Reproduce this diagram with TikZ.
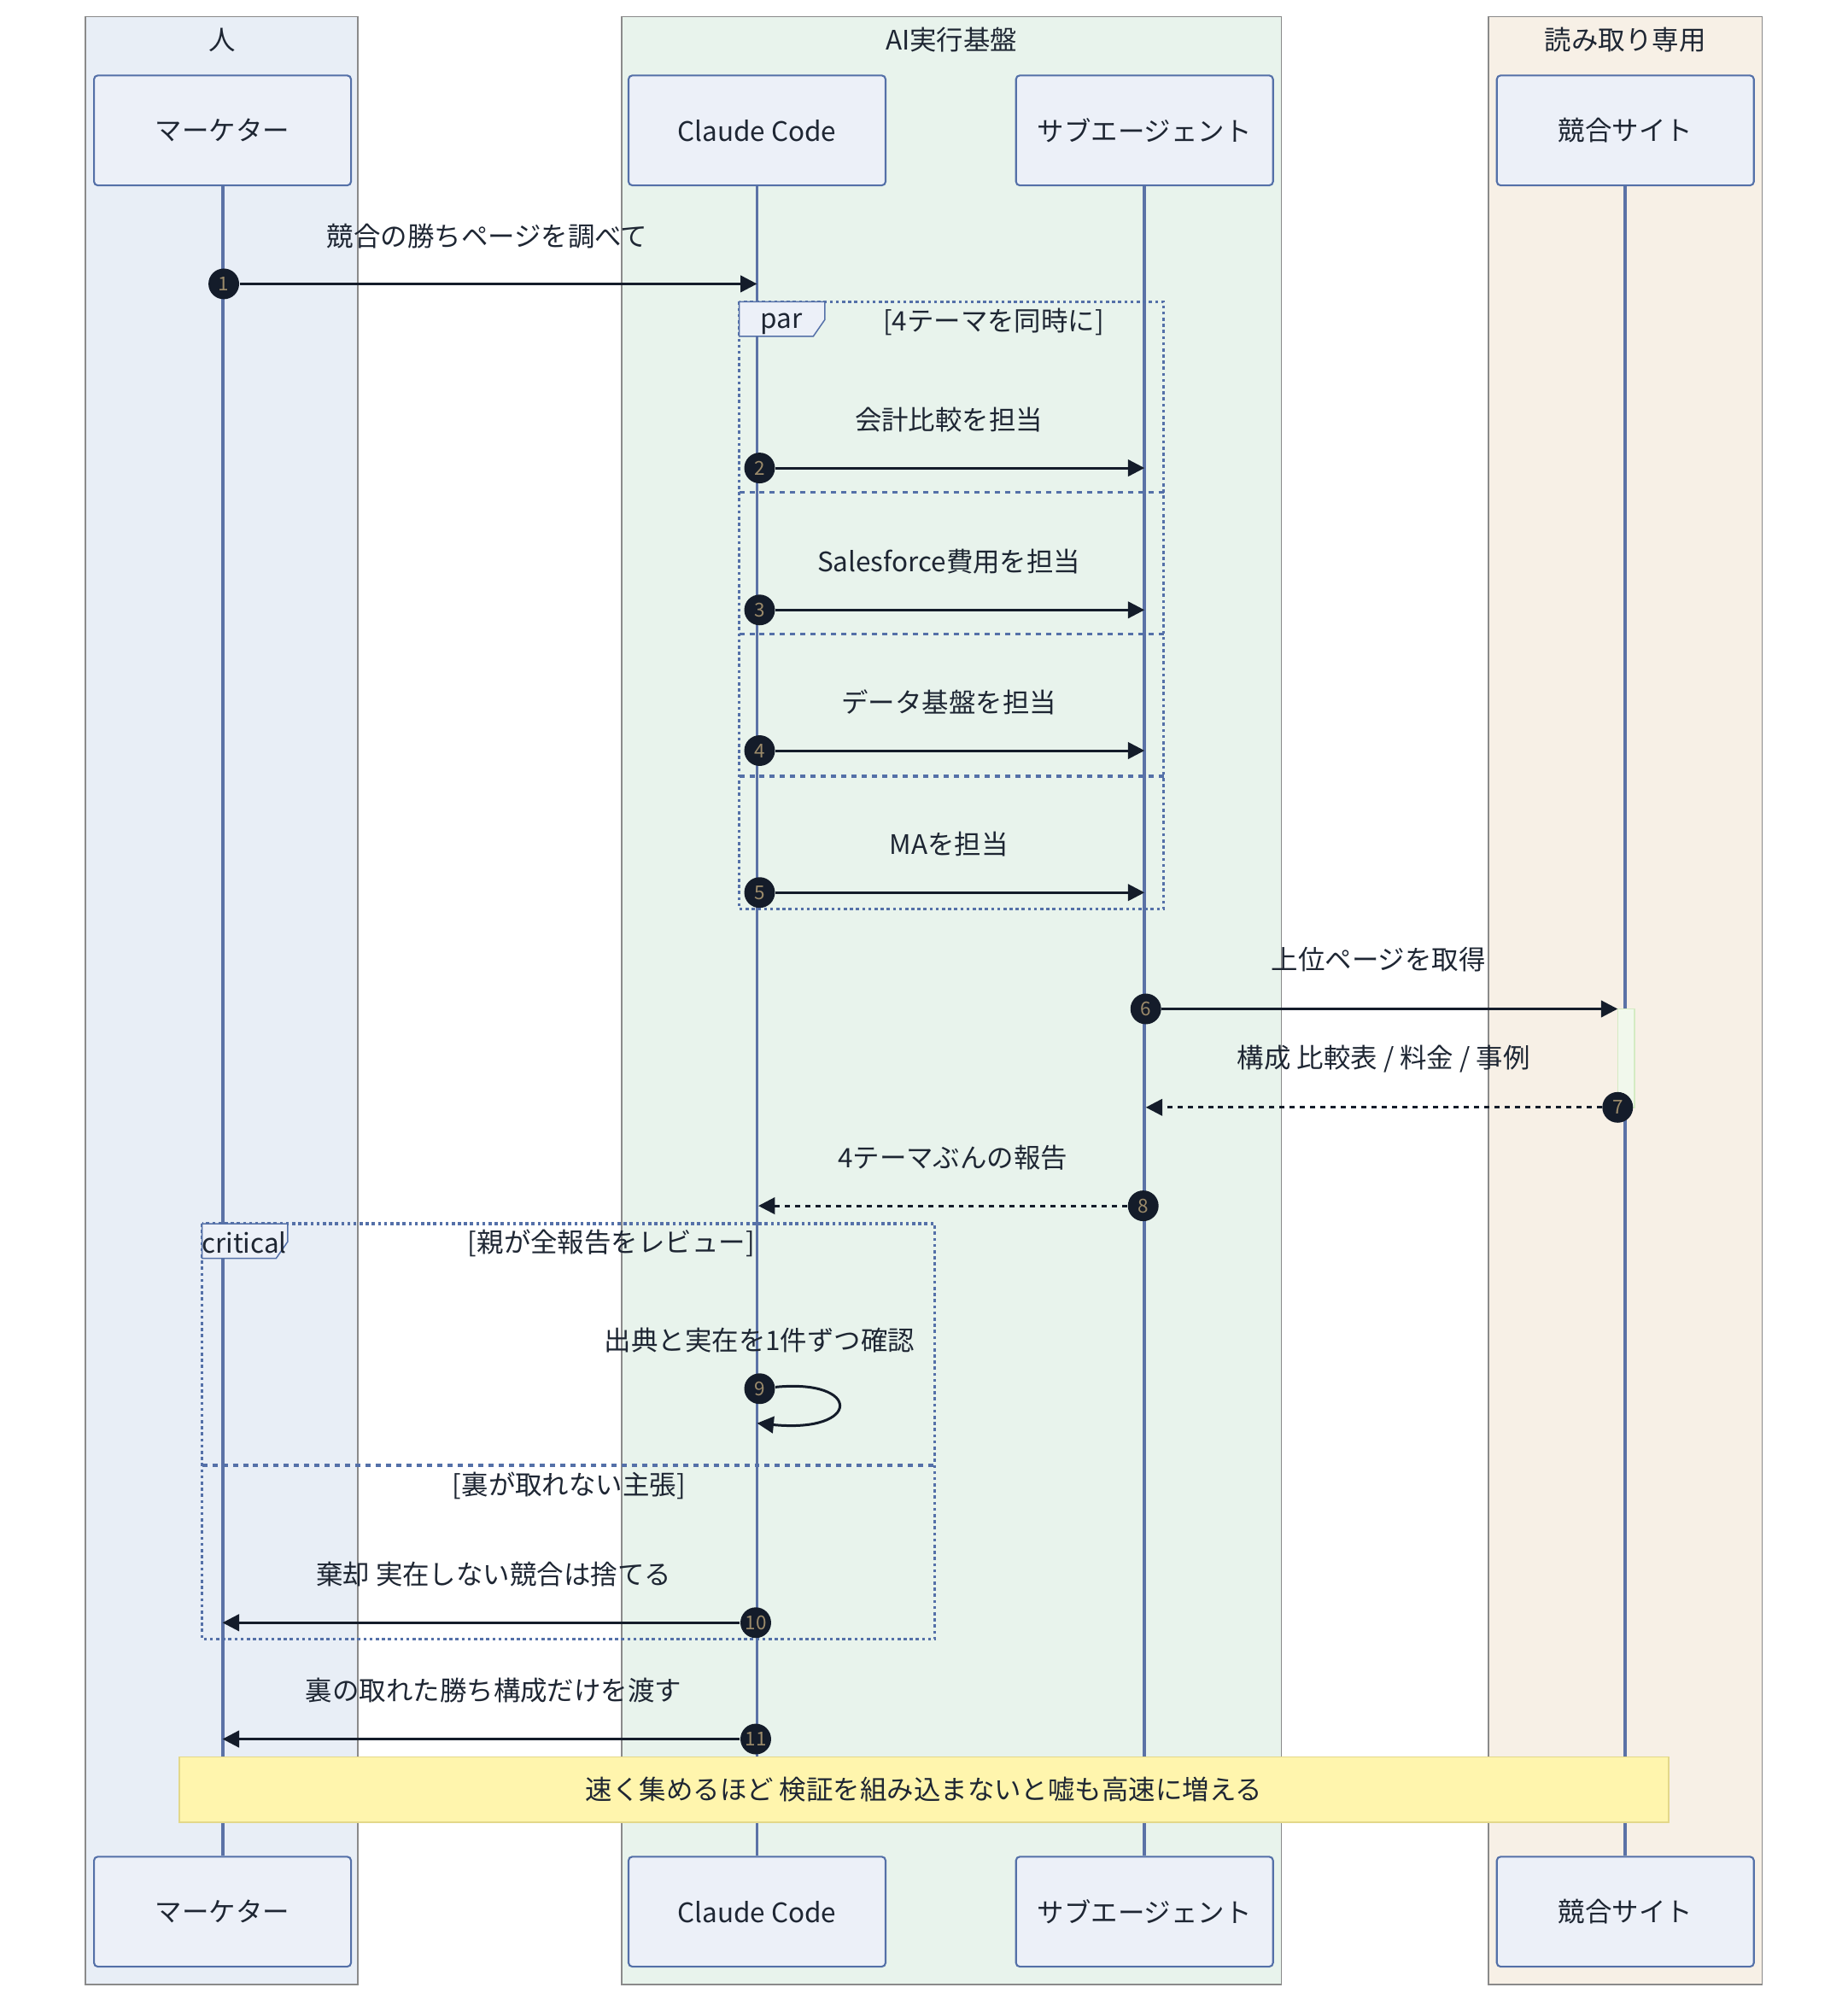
\documentclass[tikz,border=0pt]{standalone}
\usepackage{fontspec}
\setmainfont{Noto Sans CJK JP}
\usetikzlibrary{arrows.meta}

\begin{document}
\begin{tikzpicture}[x=0.5pt,y=-0.5pt,
    every node/.style={font=\fontsize{10.5}{12}\selectfont, text=textColour},
    groupBox/.style={draw=groupBorder, line width=0.6pt},
    actor/.style={draw=actorBorder, fill=actorFill, rounded corners=1.5pt, line width=0.7pt,
        minimum width=100.5pt, minimum height=43pt, inner sep=0pt},
    lifeline/.style={draw=lifelineColour, line width=1.3pt},
    msg/.style={draw=signalColour, line width=1pt, -{Triangle[length=6.5pt,width=6.5pt]}},
    reply/.style={msg, dash pattern=on 2pt off 2pt},
    seqNum/.style={circle, fill=signalColour, text=numberColour, inner sep=0pt, minimum size=12pt,
        font=\fontsize{7.5}{8}\selectfont},
    loopBorder/.style={draw=loopColour, line width=1.1pt, dash pattern=on 1.2pt off 1.2pt},
    loopSep/.style={draw=loopColour, line width=1.1pt, dash pattern=on 2pt off 2pt},
    loopTab/.style={draw=loopColour, fill=actorFill, line width=0.5pt},
    noteBox/.style={draw=noteBorder, fill=noteFill, line width=0.6pt,
        minimum width=582.5pt, minimum height=25.5pt}]
    \definecolor{textColour}{HTML}{1E2633}
    \definecolor{groupBorder}{HTML}{8A8A8A}
    \definecolor{humanFill}{HTML}{E8EEF6}
    \definecolor{aiFill}{HTML}{E8F3EC}
    \definecolor{readFill}{HTML}{F7F0E6}
    \definecolor{actorFill}{HTML}{ECF0F8}
    \definecolor{actorBorder}{HTML}{5470A8}
    \definecolor{lifelineColour}{HTML}{5B72A6}
    \definecolor{signalColour}{HTML}{141C2A}
    \definecolor{numberColour}{HTML}{9B8A6A}
    \definecolor{loopColour}{HTML}{5470A8}
    \definecolor{activationFill}{HTML}{F1F8EC}
    \definecolor{activationBorder}{HTML}{D4EBC3}
    \definecolor{noteFill}{HTML}{FFF5AD}
    \definecolor{noteBorder}{HTML}{E3D88A}

    \useasboundingbox (0,0) rectangle (1445,1568);

    % Draw groups
    \draw[groupBox, fill=humanFill] (67,13) rectangle (280,1552);
    \draw[groupBox, fill=aiFill] (486,13) rectangle (1002,1552);
    \draw[groupBox, fill=readFill] (1164,13) rectangle (1378,1552);
    \node (humanTitle) at (174,31) {人};
    \node (aiTitle) at (744,31) {AI実行基盤};
    \node (readTitle) at (1271,31) {読み取り専用};

    % Draw actors and lifelines
    \foreach \name/\x/\label in {mk/174/マーケター, cc/592/Claude Code, sub/895/サブエージェント, site/1271/競合サイト} {
        \node[actor] (\name-top) at (\x,102) {\label};
        \node[actor] (\name-bot) at (\x,1495) {\label};
        \draw[lifeline] (\name-top) -- (\name-bot);
    }

    % Activation on the site
    \draw[draw=activationBorder, fill=activationFill, line width=0.5pt] (1265,789) rectangle (1278,866);

    % Draw par block
    \draw[loopBorder] (578,236) rectangle (910,711);
    \foreach \y in {385,496,607}
        \draw[loopSep] (578,\y) -- (910,\y);
    \draw[loopTab] (578,236) -- (645,236) -- (645,250) -- (636,263) -- (578,263) -- cycle;
    \node (parTab) at (611,253) {par};
    \node (parCond) at (777,252) {[4テーマを同時に]};

    % Draw critical block
    \draw[loopBorder] (158,957) rectangle (731,1282);
    \draw[loopSep] (158,1146) -- (731,1146);
    \draw[loopTab] (158,957) -- (225,957) -- (225,971) -- (216,984) -- (158,984) -- cycle;
    \node (critTab) at (191,972) {critical};
    \node (critCond) at (478,972) {[親が全報告をレビュー]};
    \node (altCond) at (445,1162) {[裏が取れない主張]};

    % Message 1
    \node (l1) at (381,185) {競合の勝ちページを調べて};
    \coordinate (t1) at (592,222);
    \node[seqNum] (n1) at (175,222) {1};
    \draw[msg] (n1) -- (t1);

    % Messages 2 to 5
    \foreach \i/\y/\label in {2/366/会計比較を担当, 3/477/Salesforce費用を担当, 4/587/データ基盤を担当, 5/698/MAを担当} {
        \node (l\i) at (742,{\y-38}) {\label};
        \coordinate (t\i) at (895,\y);
        \node[seqNum] (n\i) at (594,\y) {\i};
        \draw[msg] (n\i) -- (t\i);
    }

    % Messages 6 to 8
    \node (l6) at (1078,750) {上位ページを取得};
    \coordinate (t6) at (1265,789);
    \node[seqNum] (n6) at (896,789) {6};
    \draw[msg] (n6) -- (t6);

    \node (l7) at (1082,828) {構成 比較表 / 料金 / 事例};
    \coordinate (t7) at (896,866);
    \node[seqNum] (n7) at (1265,866) {7};
    \draw[reply] (n7) -- (t7);

    \node (l8) at (745,905) {4テーマぶんの報告};
    \coordinate (t8) at (593,943);
    \node[seqNum] (n8) at (894,943) {8};
    \draw[reply] (n8) -- (t8);

    % Self check
    \node (l9) at (594,1048) {出典と実在を1件ずつ確認};
    \coordinate (t9) at (592,1113);
    \node[seqNum] (n9) at (594,1086) {9};
    \draw[msg] (n9) .. controls (674,1078) and (674,1121) .. (t9);

    % Messages 10 and 11
    \node (l10) at (386,1231) {棄却 実在しない競合は捨てる};
    \coordinate (t10) at (174,1269);
    \node[seqNum] (n10) at (591,1269) {10};
    \draw[msg] (n10) -- (t10);

    \node (l11) at (386,1322) {裏の取れた勝ち構成だけを渡す};
    \coordinate (t11) at (174,1360);
    \node[seqNum] (n11) at (591,1360) {11};
    \draw[msg] (n11) -- (t11);

    % Note
    \node[noteBox] (note) at (722.5,1399.5) {速く集めるほど 検証を組み込まないと嘘も高速に増える};

\end{tikzpicture}
\end{document}
